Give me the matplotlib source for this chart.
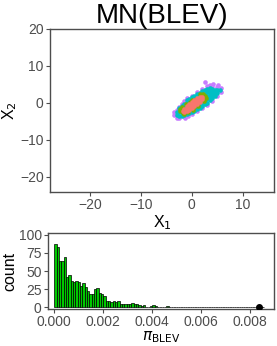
import numpy as np
import matplotlib
matplotlib.use("Agg")
import matplotlib.pyplot as plt

plt.rcParams['font.family'] = ['Liberation Sans', 'DejaVu Sans']
plt.rcParams['mathtext.fontset'] = 'dejavusans'

# scatter groups, outer ring first, core last
purple_x = [-3.5, -3.5, -3.0, -3.0, -2.5, -2.5, -2.0, -1.4, -1.5, -1.0, 0.0, 0.0, 1.0, 1.0,
            2.0, 2.0, 3.0, 3.0, 4.0, 4.0, 5.0, 5.0, 5.8, 5.8, 2.5, 5.1, 4.2, -0.7, 3.5]
purple_y = [-3.3, -2.5, -4.0, -1.8, -4.0, -1.0, -0.3, -4.1, 0.4, 1.2, -3.1, 2.0, -2.3, 2.9,
            -1.5, 3.7, -0.6, 4.5, 0.6, 4.4, 1.8, 4.3, 3.0, 4.0, 5.7, 4.8, 5.0, -3.6, 4.9]
cyan_x = [-3.0, -3.0, -2.5, -2.5, -2.5, -2.0, -2.0, -2.0, -2.0, -1.5, -1.5, -1.5, -1.5,
          -1.0, -1.0, -1.0, -1.0, -1.0, -0.5, -0.5, -0.5, -0.5, -0.5, 0.0, 0.0, 0.0, 0.0, 0.0,
          0.5, 0.5, 0.5, 0.5, 0.5, 1.0, 1.0, 1.0, 1.0, 1.0, 1.5, 1.5, 1.5, 1.5, 1.5,
          2.0, 2.0, 2.0, 2.0, 2.0, 2.5, 2.5, 2.5, 2.5, 2.5, 3.0, 3.0, 3.0, 3.0, 3.0,
          3.5, 3.5, 3.5, 3.5, 3.5, 4.0, 4.0, 4.0, 4.0, 4.5, 4.5, 4.5, 5.0, 5.0, 5.5]
cyan_y = [-3.4, -2.4, -3.5, -2.5, -1.5, -3.6, -2.6, -1.6, -0.8, -3.3, -2.3, -1.3, -0.2,
          -3.1, -2.1, -1.1, -0.1, 0.7, -2.8, -1.8, -0.9, 0.1, 1.1, -2.5, -1.5, -0.5, 0.5, 1.5,
          -2.1, -1.1, 0.0, 1.0, 1.9, -1.7, -0.7, 0.3, 1.3, 2.3, -1.3, -0.3, 0.7, 1.7, 2.7,
          -0.9, 0.1, 1.1, 2.1, 3.1, -0.4, 0.5, 1.5, 2.5, 3.4, 0.1, 1.0, 2.0, 3.0, 3.8,
          0.7, 1.5, 2.4, 3.3, 4.0, 1.4, 2.2, 3.0, 3.8, 2.0, 2.8, 3.6, 2.7, 3.5, 3.6]
green_x = [-2.3, -2.0, -1.8, -1.2, -0.8, -0.3, 0.2, 0.8, 1.2, 1.8, 2.3, 2.6, 2.1, -1.5,
           0.5, 1.5, -2.4, 0.0, 2.8]
green_y = [-2.2, -1.2, -2.8, -0.4, -2.4, 0.3, -1.8, 1.0, -0.9, 1.9, 0.6, 1.8, 2.5, -2.9,
           -1.2, 2.3, -1.6, 0.9, 1.2]
red_x = [-1.8, -1.5, -1.5, -1.0, -1.0, -1.0, -0.5, -0.5, -0.5, 0.0, 0.0, 0.0,
         0.5, 0.5, 0.5, 1.0, 1.0, 1.0, 1.5, 1.5, 1.5, 2.0, 2.0]
red_y = [-2.3, -2.4, -1.7, -2.2, -1.5, -0.8, -1.8, -1.0, -0.3, -1.3, -0.5, 0.3,
         -0.8, 0.0, 0.8, -0.3, 0.5, 1.2, 0.3, 1.0, 1.7, 1.0, 1.7]

# histogram of pi_BLEV
bin_width = 0.0000952
counts = [87, 83, 64, 64, 70, 42, 45, 37, 35, 36, 35, 30, 33, 28, 22, 18, 18, 25, 26, 20,
          18, 16, 9, 9, 8, 9, 8, 9, 5, 5, 4, 4, 5, 6, 5, 4, 3, 2, 3, 1,
          1, 2, 3, 2, 1, 1, 1, 0, 2, 1, 1, 0, 0, 1, 0, 0, 0, 0, 0, 0,
          0, 0, 0, 0, 0, 0, 0, 0, 0, 0, 0, 0, 0, 0, 1, 0, 0, 0, 0, 0,
          0, 0, 0, 0, 0, 0, 0, 1, 0, 0]
max_pi = 0.00834
max_count = 1

fig = plt.figure(figsize=(2.77, 3.46), dpi=100)

frame_col = '#4D4D4D'
tick_col = '#4D4D4D'

def style(ax):
    for s in ax.spines.values():
        s.set_color(frame_col)
        s.set_linewidth(1.0)
    ax.tick_params(colors=tick_col, labelcolor=tick_col, labelsize=10, length=3, width=0.8, pad=1.5)

ax1 = fig.add_axes([50/277, 154/346, 224/277, 163/346])
for xs, ys, c in [(purple_x, purple_y, '#C77CFF'), (cyan_x, cyan_y, '#00BFC4'),
                  (green_x, green_y, '#7CAE00'), (red_x, red_y, '#F8766D')]:
    ax1.scatter(xs, ys, s=11, c=c, linewidths=0)
ax1.set_xlim(-27.8, 16.1)
ax1.set_ylim(-24.1, 20)
ax1.set_xticks([-20, -10, 0, 10])
ax1.set_yticks([-20, -10, 0, 10, 20])
ax1.set_xticklabels(['\u221220', '\u221210', '0', '10'])
ax1.set_yticklabels(['\u221220', '\u221210', '0', '10', '20'])
ax1.set_xlabel('X$_1$', fontsize=11.5, labelpad=1)
ax1.set_ylabel('X$_2$', fontsize=11.5, labelpad=1)
ax1.set_title('MN(BLEV)', fontsize=20, pad=2)
style(ax1)

ax2 = fig.add_axes([48/277, 37/346, 226/277, 76/346])
edges = np.arange(len(counts)) * bin_width
ax2.bar(edges, counts, width=bin_width, align='edge', color='#00C800',
        edgecolor='black', linewidth=0.5)
ax2.scatter([max_pi], [max_count], s=16, c='black', zorder=3)
ax2.set_xlim(-0.000257, 0.00897)
ax2.set_ylim(-2.3, 102.5)
ax2.set_xticks([0, 0.002, 0.004, 0.006, 0.008])
ax2.set_xticklabels(['0.000', '0.002', '0.004', '0.006', '0.008'])
ax2.set_yticks([0, 25, 50, 75, 100])
ax2.set_xlabel(r'$\pi_{\mathrm{BLEV}}$', fontsize=11, labelpad=0)
ax2.set_ylabel('count', fontsize=11.5, labelpad=1)
style(ax2)

fig.savefig('out.png', dpi=100)
